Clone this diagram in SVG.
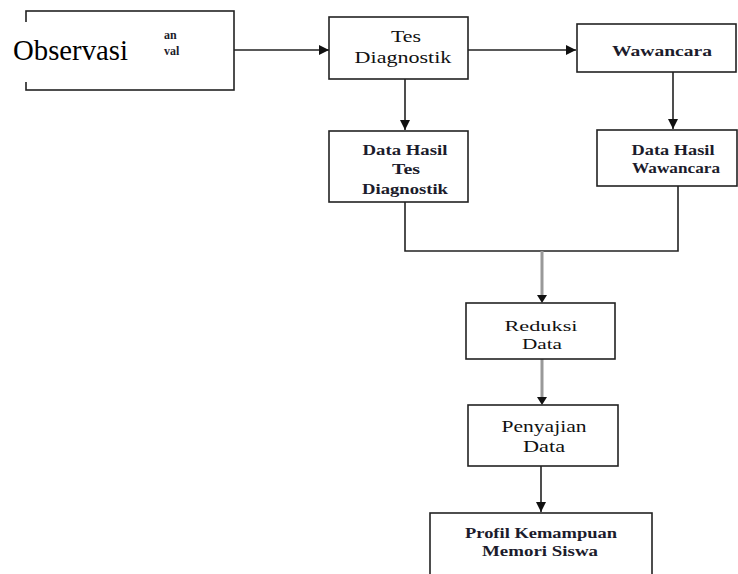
<svg xmlns="http://www.w3.org/2000/svg" width="738" height="574" viewBox="0 0 738 574">
<defs>
<style>
.box{fill:#fff;stroke:#222;stroke-width:1.6}
.t{font-family:"Liberation Serif",Tinos,"Nimbus Roman","Noto Serif","DejaVu Serif",FreeSerif,Times,serif;fill:#1c1c2c;text-anchor:middle;font-size:15.5px;font-weight:bold}
.n{font-weight:normal;fill:#111}
.c{fill:none;stroke:#222;stroke-width:1.6}
.g{fill:none;stroke:#999;stroke-width:3}
</style>
<marker id="ahb" viewBox="0 0 10 10" refX="10" refY="5" markerWidth="10" markerHeight="10" orient="auto" markerUnits="userSpaceOnUse">
<path d="M0,0 L10,5 L0,10 z" fill="#111"/>
</marker>
</defs>
<rect width="738" height="574" fill="#fff"/>
<g id="connectors">
<line class="c" x1="234" y1="50" x2="329" y2="50" marker-end="url(#ahb)"/>
<line class="c" x1="468" y1="50" x2="576" y2="50" marker-end="url(#ahb)"/>
<line class="c" x1="405" y1="79" x2="405" y2="130" marker-end="url(#ahb)"/>
<line class="c" x1="673" y1="72" x2="673" y2="129" marker-end="url(#ahb)"/>
<polyline class="c" points="405,202 405,251 678,251 678,186"/>
<line class="g" x1="542" y1="251" x2="542" y2="296"/>
<path d="M537,295 L547,295 L542,303 z" fill="#111"/>
<line class="g" x1="542" y1="359" x2="542" y2="398"/>
<path d="M537,397 L547,397 L542,405 z" fill="#111"/>
<line class="c" x1="541" y1="466" x2="541" y2="512" marker-end="url(#ahb)"/>
</g>
<g id="observasi">
<rect class="box" x="26" y="11" width="208" height="79"/>
<rect x="8" y="22" width="152" height="60" fill="#fff"/>
<text class="t" x="164" y="39" style="text-anchor:start;font-size:12px">an</text>
<text class="t" x="164" y="55" style="text-anchor:start;font-size:12px">val</text>
<text class="t n" transform="translate(13,60) scale(2)" x="0" y="0" textLength="57.5" lengthAdjust="spacingAndGlyphs" style="text-anchor:start;font-size:14.2px;fill:#000">Observasi</text>
</g>
<g id="tes">
<rect class="box" x="329" y="17" width="139" height="62"/>
<text class="t n" transform="translate(406,42) scale(1.1)" x="0" y="0" textLength="27.3" lengthAdjust="spacingAndGlyphs" style="font-size:15px">Tes</text>
<text class="t n" transform="translate(403,63) scale(1.1)" x="0" y="0" textLength="88" lengthAdjust="spacingAndGlyphs" style="font-size:15px">Diagnostik</text>
</g>
<g id="wawancara">
<rect class="box" x="577" y="24" width="159" height="48"/>
<text class="t" x="662" y="56" textLength="100" lengthAdjust="spacingAndGlyphs" style="font-size:15px">Wawancara</text>
</g>
<g id="data-tes">
<rect class="box" x="329" y="131" width="139" height="71"/>
<text class="t" x="405" y="155" textLength="85" lengthAdjust="spacingAndGlyphs">Data Hasil</text>
<text class="t" x="406" y="174" textLength="28" lengthAdjust="spacingAndGlyphs">Tes</text>
<text class="t" x="405" y="194" textLength="86" lengthAdjust="spacingAndGlyphs">Diagnostik</text>
</g>
<g id="data-wawancara">
<rect class="box" x="597" y="130" width="140" height="56"/>
<text class="t" x="673" y="155" textLength="83" lengthAdjust="spacingAndGlyphs">Data Hasil</text>
<text class="t" x="676" y="173" textLength="88" lengthAdjust="spacingAndGlyphs">Wawancara</text>
</g>
<g id="reduksi">
<rect class="box" x="466" y="303" width="149" height="56"/>
<text class="t n" x="541" y="331" textLength="73" lengthAdjust="spacingAndGlyphs">Reduksi</text>
<text class="t n" x="542" y="349" textLength="40" lengthAdjust="spacingAndGlyphs">Data</text>
</g>
<g id="penyajian">
<rect class="box" x="468" y="405" width="150" height="61"/>
<text class="t n" transform="translate(544,432) scale(1.1)" x="0" y="0" textLength="77.3" lengthAdjust="spacingAndGlyphs" style="font-size:15px">Penyajian</text>
<text class="t n" transform="translate(544,452) scale(1.1)" x="0" y="0" textLength="38.2" lengthAdjust="spacingAndGlyphs" style="font-size:15px">Data</text>
</g>
<g id="profil">
<rect class="box" x="430" y="513" width="222" height="70"/>
<text class="t" x="541" y="538" textLength="152" lengthAdjust="spacingAndGlyphs" style="font-size:15px">Profil Kemampuan</text>
<text class="t" x="540" y="556" textLength="116" lengthAdjust="spacingAndGlyphs" style="font-size:15px">Memori Siswa</text>
</g>
</svg>
